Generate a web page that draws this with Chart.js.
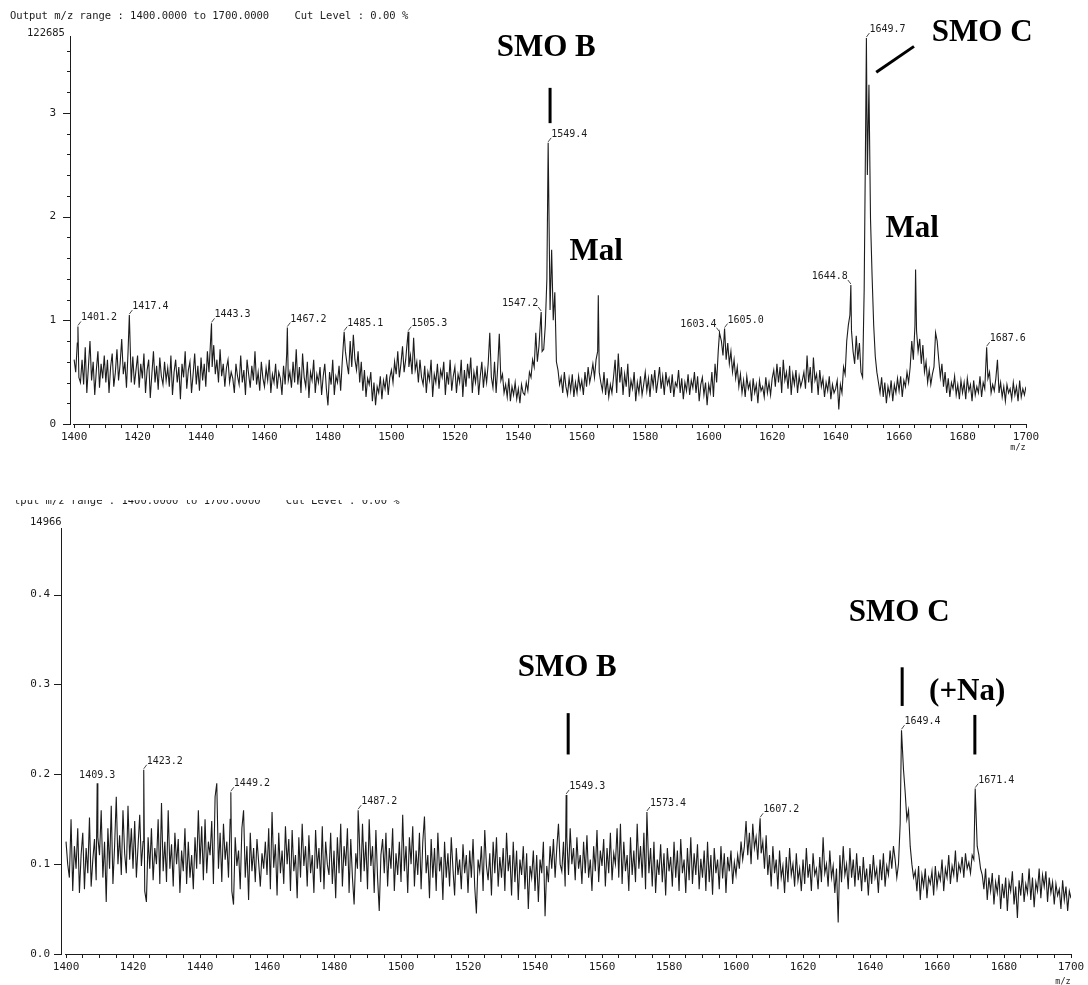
<!DOCTYPE html>
<html>
<head>
<meta charset="utf-8">
<script src="https://cdn.jsdelivr.net/npm/chart.js@4/dist/chart.umd.min.js"></script>
<style>
  html, body { margin: 0; padding: 0; background: #fff; }
  #wrap { position: relative; width: 1088px; height: 985px; }
  .panel { position: absolute; left: 0; width: 1088px; }
  #top { top: 0; height: 500px; }
  #bottom { top: 500px; height: 485px; }
</style>
</head>
<body>
<div id="wrap">
  <div class="panel" id="top"><canvas id="c1"></canvas></div>
  <div class="panel" id="bottom"><canvas id="c2"></canvas></div>
</div>
<script>
// ---- data: m/z grid 1400..1700 in 0.5 steps, relative intensity ----
const mzStart = 1400;
const mzStep = 0.5;

// upper spectrum (full scale 122685)
const topNoise = [
  0.62,0.50,0.78,0.45,0.40,0.62,0.38,0.74,0.30,0.55,0.80,0.42,0.60,0.28,0.52,0.70,0.35,0.58,0.44,0.66,
  0.40,0.62,0.30,0.55,0.68,0.36,0.50,0.72,0.42,0.58,0.82,0.48,0.60,0.35,0.70,0.55,0.40,0.65,0.38,0.52,
  0.66,0.35,0.58,0.44,0.68,0.30,0.52,0.62,0.25,0.48,0.70,0.40,0.56,0.33,0.64,0.46,0.38,0.60,0.42,0.54,
  0.36,0.66,0.28,0.50,0.62,0.40,0.55,0.24,0.58,0.45,0.70,0.34,0.52,0.60,0.30,0.48,0.68,0.38,0.56,0.32,
  0.64,0.42,0.58,0.36,0.70,0.50,0.80,0.55,0.76,0.48,0.62,0.40,0.72,0.46,0.58,0.36,0.54,0.62,0.40,0.50,
  0.44,0.30,0.58,0.46,0.38,0.66,0.40,0.52,0.28,0.62,0.48,0.35,0.56,0.42,0.70,0.38,0.50,0.32,0.60,0.44,
  0.36,0.54,0.42,0.62,0.30,0.48,0.40,0.58,0.34,0.50,0.44,0.28,0.56,0.38,0.68,0.42,0.50,0.35,0.60,0.40,
  0.72,0.38,0.55,0.30,0.68,0.45,0.36,0.60,0.25,0.50,0.42,0.62,0.30,0.48,0.40,0.55,0.28,0.46,0.58,0.34,
  0.18,0.50,0.38,0.62,0.28,0.46,0.40,0.56,0.32,0.60,0.50,0.70,0.58,0.48,0.80,0.55,0.86,0.62,0.52,0.70,
  0.40,0.60,0.32,0.52,0.26,0.44,0.38,0.50,0.22,0.40,0.18,0.36,0.30,0.46,0.24,0.42,0.34,0.48,0.28,0.45,
  0.52,0.40,0.60,0.48,0.70,0.45,0.58,0.75,0.50,0.62,0.80,0.55,0.66,0.48,0.83,0.52,0.60,0.40,0.62,0.45,
  0.38,0.56,0.30,0.50,0.42,0.62,0.26,0.48,0.40,0.58,0.34,0.52,0.45,0.60,0.28,0.50,0.38,0.62,0.32,0.46,
  0.55,0.30,0.48,0.40,0.62,0.26,0.52,0.36,0.58,0.44,0.64,0.30,0.50,0.40,0.56,0.28,0.46,0.60,0.35,0.52,
  0.40,0.58,0.88,0.45,0.35,0.60,0.30,0.55,0.87,0.42,0.48,0.30,0.38,0.26,0.44,0.22,0.36,0.28,0.40,0.24,
  0.34,0.20,0.38,0.30,0.28,0.40,0.32,0.50,0.45,0.62,0.55,0.88,0.60,0.75,1.00,0.70,0.72,0.95,1.40,2.00,
  1.10,1.68,1.00,1.27,0.60,0.52,0.38,0.45,0.30,0.50,0.36,0.28,0.44,0.32,0.48,0.26,0.40,0.30,0.46,0.34,
  0.42,0.28,0.50,0.36,0.55,0.40,0.48,0.58,0.45,0.62,0.70,0.50,0.40,0.32,0.50,0.28,0.44,0.26,0.38,0.30,
  0.45,0.62,0.30,0.68,0.40,0.55,0.28,0.48,0.36,0.58,0.26,0.42,0.34,0.50,0.22,0.40,0.30,0.46,0.28,0.38,
  0.50,0.32,0.44,0.26,0.48,0.36,0.52,0.30,0.42,0.55,0.34,0.46,0.28,0.50,0.38,0.44,0.30,0.48,0.26,0.40,
  0.36,0.52,0.30,0.44,0.24,0.40,0.32,0.48,0.28,0.42,0.35,0.50,0.30,0.46,0.22,0.38,0.45,0.28,0.40,0.18,
  0.38,0.30,0.50,0.26,0.58,0.40,0.70,0.60,0.80,0.66,0.85,0.62,0.78,0.58,0.70,0.50,0.62,0.44,0.55,0.36,
  0.48,0.30,0.42,0.26,0.46,0.34,0.40,0.22,0.44,0.30,0.38,0.20,0.42,0.32,0.36,0.26,0.45,0.30,0.40,0.28,
  0.44,0.52,0.36,0.58,0.40,0.55,0.30,0.62,0.42,0.50,0.34,0.56,0.28,0.48,0.38,0.52,0.30,0.46,0.36,0.42,
  0.50,0.34,0.66,0.40,0.55,0.30,0.64,0.42,0.48,0.28,0.52,0.36,0.44,0.26,0.40,0.32,0.46,0.24,0.38,0.30,
  0.34,0.42,0.14,0.38,0.30,0.55,0.48,0.80,0.95,1.05,0.90,0.70,0.58,0.85,0.62,0.78,0.50,0.45,1.30,3.00,
  2.40,3.27,1.97,1.42,0.95,0.65,0.50,0.40,0.30,0.45,0.26,0.40,0.20,0.36,0.28,0.42,0.22,0.38,0.30,0.44,
  0.32,0.46,0.26,0.42,0.36,0.50,0.40,0.55,0.80,0.62,0.95,0.90,0.70,0.82,0.58,0.76,0.50,0.60,0.40,0.52,
  0.38,0.48,0.55,0.88,0.80,0.62,0.45,0.58,0.36,0.50,0.30,0.44,0.26,0.40,0.34,0.46,0.28,0.38,0.24,0.42,
  0.30,0.40,0.24,0.44,0.32,0.38,0.22,0.42,0.28,0.36,0.30,0.46,0.26,0.40,0.34,0.55,0.44,0.50,0.30,0.38,
  0.32,0.44,0.62,0.30,0.40,0.26,0.36,0.22,0.38,0.30,0.34,0.24,0.40,0.28,0.36,0.22,0.42,0.26,0.34,0.28,
  0.36
];
// [m/z, intensity, label, side]
const topPeaks = [
  [1401.2, 0.94, '1401.2', 'r'], [1417.4, 1.05, '1417.4', 'r'], [1443.3, 0.97, '1443.3', 'r'],
  [1467.2, 0.93, '1467.2', 'r'], [1485.1, 0.89, '1485.1', 'r'], [1505.3, 0.89, '1505.3', 'r'],
  [1547.2, 1.08, '1547.2', 'l'], [1549.4, 2.71, '1549.4', 'r'], [1565.2, 1.24, '', ''],
  [1603.4, 0.88, '1603.4', 'l'], [1605.0, 0.92, '1605.0', 'r'], [1644.8, 1.34, '1644.8', 'l'],
  [1649.7, 3.72, '1649.7', 'r'], [1665.2, 1.49, '', ''], [1687.6, 0.74, '1687.6', 'r']
];
const topYMax = 3.74;
const topYTicks = [0, 0.2, 0.4, 0.6, 0.8, 1, 1.2, 1.4, 1.6, 1.8, 2, 2.2, 2.4, 2.6, 2.8, 3, 3.2, 3.4, 3.6];
const topFullScale = '122685';
const topTags = [
  { text: 'SMO B', mz: 1548.8, y: 3.62 },
  { text: 'Mal', mz: 1564.5, y: 1.66 },
  { text: 'SMO C', mz: 1686.2, y: 3.77 },
  { text: 'Mal', mz: 1664.1, y: 1.88 }
];
const topMarks = [
  [1550.0, 3.24, 1550.0, 2.90],
  [1652.8, 3.39, 1664.7, 3.64]
];

// lower spectrum (full scale 14966)
const bottomNoise = [
  0.125,0.100,0.085,0.150,0.070,0.120,0.095,0.140,0.068,0.110,0.135,0.072,0.118,0.090,0.152,0.075,0.105,0.128,0.082,0.130,
  0.110,0.160,0.085,0.125,0.058,0.140,0.095,0.165,0.078,0.120,0.175,0.100,0.132,0.088,0.160,0.112,0.090,0.165,0.105,0.140,
  0.095,0.148,0.085,0.120,0.155,0.098,0.125,0.070,0.058,0.130,0.095,0.140,0.082,0.118,0.100,0.150,0.078,0.168,0.092,0.125,
  0.080,0.160,0.095,0.122,0.075,0.135,0.100,0.128,0.068,0.115,0.092,0.140,0.078,0.125,0.085,0.110,0.072,0.130,0.095,0.160,
  0.100,0.142,0.082,0.150,0.090,0.125,0.110,0.148,0.078,0.175,0.190,0.095,0.135,0.080,0.145,0.105,0.125,0.085,0.150,0.070,
  0.055,0.130,0.098,0.115,0.072,0.140,0.160,0.085,0.120,0.060,0.135,0.092,0.118,0.080,0.128,0.102,0.075,0.112,0.095,0.125,
  0.088,0.140,0.072,0.158,0.096,0.122,0.065,0.135,0.090,0.115,0.078,0.142,0.100,0.128,0.070,0.138,0.092,0.110,0.062,0.130,
  0.085,0.145,0.098,0.120,0.075,0.132,0.090,0.110,0.068,0.138,0.095,0.118,0.080,0.142,0.072,0.125,0.100,0.088,0.135,0.078,
  0.115,0.062,0.130,0.090,0.145,0.075,0.120,0.098,0.140,0.068,0.128,0.085,0.055,0.112,0.095,0.135,0.080,0.145,0.092,0.125,
  0.072,0.150,0.098,0.120,0.068,0.138,0.085,0.048,0.110,0.128,0.090,0.135,0.075,0.118,0.095,0.140,0.070,0.112,0.088,0.125,
  0.080,0.155,0.092,0.120,0.068,0.130,0.100,0.142,0.075,0.115,0.088,0.135,0.072,0.125,0.153,0.090,0.110,0.062,0.128,0.085,
  0.118,0.070,0.135,0.092,0.108,0.060,0.125,0.085,0.112,0.075,0.130,0.095,0.065,0.118,0.088,0.105,0.072,0.122,0.090,0.110,
  0.068,0.115,0.085,0.128,0.075,0.045,0.105,0.092,0.120,0.070,0.138,0.098,0.082,0.112,0.065,0.125,0.090,0.130,0.075,0.108,
  0.085,0.118,0.070,0.135,0.092,0.110,0.065,0.125,0.080,0.115,0.060,0.105,0.088,0.120,0.072,0.112,0.050,0.098,0.085,0.115,
  0.070,0.110,0.058,0.105,0.090,0.125,0.042,0.098,0.080,0.120,0.095,0.128,0.085,0.118,0.145,0.100,0.092,0.125,0.075,0.130,
  0.088,0.140,0.100,0.118,0.082,0.130,0.095,0.110,0.078,0.125,0.090,0.132,0.085,0.105,0.070,0.120,0.092,0.138,0.080,0.115,
  0.098,0.128,0.075,0.118,0.090,0.135,0.082,0.112,0.100,0.140,0.085,0.145,0.078,0.125,0.092,0.110,0.070,0.130,0.088,0.115,
  0.080,0.145,0.095,0.120,0.085,0.135,0.072,0.110,0.090,0.118,0.075,0.125,0.068,0.105,0.088,0.122,0.080,0.112,0.065,0.118,
  0.092,0.108,0.075,0.125,0.085,0.115,0.070,0.128,0.090,0.105,0.068,0.118,0.082,0.130,0.078,0.112,0.088,0.122,0.072,0.106,
  0.085,0.115,0.070,0.125,0.080,0.110,0.066,0.118,0.090,0.105,0.072,0.120,0.084,0.112,0.068,0.108,0.092,0.115,0.078,0.102,
  0.088,0.110,0.095,0.125,0.105,0.120,0.148,0.110,0.135,0.100,0.145,0.118,0.130,0.105,0.140,0.112,0.125,0.095,0.132,0.088,
  0.110,0.075,0.120,0.090,0.105,0.072,0.115,0.085,0.098,0.068,0.108,0.080,0.118,0.088,0.100,0.075,0.112,0.082,0.095,0.070,
  0.105,0.078,0.118,0.085,0.100,0.070,0.112,0.088,0.095,0.072,0.108,0.080,0.130,0.090,0.100,0.075,0.115,0.085,0.098,0.068,
  0.095,0.035,0.110,0.080,0.120,0.088,0.100,0.072,0.118,0.085,0.105,0.075,0.112,0.082,0.098,0.070,0.108,0.080,0.095,0.065,
  0.100,0.078,0.110,0.085,0.095,0.068,0.105,0.082,0.112,0.075,0.098,0.088,0.115,0.095,0.120,0.105,0.085,0.100,0.145,0.230,
  0.205,0.180,0.150,0.160,0.120,0.100,0.085,0.092,0.070,0.098,0.060,0.088,0.075,0.095,0.062,0.085,0.078,0.092,0.065,0.098,
  0.075,0.090,0.082,0.105,0.070,0.095,0.085,0.110,0.078,0.098,0.088,0.115,0.080,0.100,0.092,0.108,0.085,0.112,0.095,0.102,
  0.090,0.110,0.105,0.135,0.120,0.110,0.095,0.088,0.072,0.095,0.060,0.085,0.070,0.090,0.055,0.080,0.068,0.088,0.050,0.078,
  0.062,0.085,0.048,0.080,0.070,0.092,0.055,0.075,0.040,0.082,0.065,0.090,0.058,0.078,0.068,0.095,0.060,0.085,0.052,0.080,
  0.070,0.095,0.062,0.088,0.075,0.092,0.058,0.085,0.068,0.080,0.055,0.078,0.065,0.072,0.050,0.082,0.060,0.075,0.048,0.070,
  0.062
];
const bottomPeaks = [
  [1409.3, 0.190, '1409.3', 'c'], [1423.2, 0.205, '1423.2', 'r'], [1449.2, 0.180, '1449.2', 'r'],
  [1487.2, 0.160, '1487.2', 'r'], [1549.3, 0.177, '1549.3', 'r'], [1573.4, 0.158, '1573.4', 'r'],
  [1607.2, 0.151, '1607.2', 'r'], [1649.4, 0.249, '1649.4', 'r'], [1671.4, 0.184, '1671.4', 'r']
];
const bottomYMax = 0.474;
const bottomYTicks = [0, 0.1, 0.2, 0.3, 0.4];
const bottomFullScale = '14966';
const bottomTags = [
  { text: 'SMO B', mz: 1549.6, y: 0.318 },
  { text: 'SMO C', mz: 1648.7, y: 0.379 },
  { text: '(+Na)', mz: 1669.0, y: 0.291 }
];
const bottomMarks = [
  [1549.9, 0.268, 1549.9, 0.222],
  [1649.6, 0.319, 1649.6, 0.276],
  [1671.3, 0.266, 1671.3, 0.222]
];

// m/z axis ticks every 5, labelled every 20
const xTicks = [];
for (let v = 1400; v <= 1700; v += 5) xTicks.push(v);

const header = 'Output m/z range : 1400.0000 to 1700.0000    Cut Level : 0.00 %';
const mono = '"DejaVu Sans Mono", "Liberation Mono", monospace';
const ink = '#1c1c1c';

function buildPoints(values, peaks) {
    var pts = [];
    values.forEach(function (v, i) {
        var x = mzStart + i * mzStep;
        var near = peaks.some(function (p) { return Math.abs(p[0] - x) < 0.15; });
        if (!near) pts.push({ x: x, y: v });
    });
    peaks.forEach(function (p) { pts.push({ x: p[0], y: p[1] }); });
    pts.sort(function (a, b) { return a.x - b.x; });
    return pts;
}

// y ticks (long at labelled values, short between), peak labels, bold tags, header texts
const decorPlugin = {
    id: 'decor',
    afterDraw: function (chart, args, opts) {
        const ctx = chart.ctx;
        const xs = chart.scales.x, ys = chart.scales.y;
        ctx.save();
        ctx.strokeStyle = ink;
        ctx.lineWidth = 1;
        ys.ticks.forEach(function (t) {
            const py = Math.round(ys.getPixelForValue(t.value)) + 0.5;
            const len = t.label ? 7 : 3;
            ctx.beginPath();
            ctx.moveTo(ys.right - len, py);
            ctx.lineTo(ys.right, py);
            ctx.stroke();
        });
        // x axis line starts at 1400, a little right of the y axis
        ctx.clearRect(ys.right + 1, xs.top - 1, xs.getPixelForValue(1400) - ys.right - 2, 3);

        // peak labels
        ctx.font = '10px ' + mono;
        ctx.fillStyle = ink;
        ctx.lineWidth = 0.8;
        ctx.textBaseline = 'alphabetic';
        opts.peaks.forEach(function (p) {
            if (!p[2]) return;
            const px = xs.getPixelForValue(p[0]);
            const py = ys.getPixelForValue(p[1]);
            if (p[3] === 'c') {
                ctx.textAlign = 'center';
                ctx.fillText(p[2], px, py - 5);
                return;
            }
            const d = p[3] === 'l' ? -1 : 1;
            ctx.beginPath();
            ctx.moveTo(px, py - 1);
            ctx.lineTo(px + 3 * d, py - 5);
            ctx.stroke();
            ctx.textAlign = d > 0 ? 'left' : 'right';
            ctx.fillText(p[2], px + 3 * d, py - 6);
        });
        // bold tags
        ctx.font = 'bold 31px "Liberation Serif", "Times New Roman", serif';
        ctx.fillStyle = '#000';
        ctx.textAlign = 'center';
        ctx.textBaseline = 'middle';
        opts.tags.forEach(function (t) {
            ctx.fillText(t.text, xs.getPixelForValue(t.mz), ys.getPixelForValue(t.y));
        });
        ctx.strokeStyle = '#000';
        ctx.lineWidth = 3;
        opts.marks.forEach(function (m) {
            ctx.beginPath();
            ctx.moveTo(xs.getPixelForValue(m[0]), ys.getPixelForValue(m[1]));
            ctx.lineTo(xs.getPixelForValue(m[2]), ys.getPixelForValue(m[3]));
            ctx.stroke();
        });
        // header, full scale value, m/z unit
        ctx.fillStyle = ink;
        ctx.textAlign = 'left';
        ctx.font = '10.5px ' + mono;
        if (opts.headerY > 4) {
            ctx.fillText(header, 10, opts.headerY);
        } else {
            // lower scan is cut off at its left and top edges
            const cut = ctx.measureText('Ou').width;
            ctx.save();
            ctx.beginPath();
            ctx.rect(14, 0, 1074, 20);
            ctx.clip();
            ctx.fillText(header, 14 - cut, opts.headerY);
            ctx.restore();
        }
        ctx.fillText(opts.fullScale, opts.fsX, opts.fsY);
        ctx.font = '8.5px ' + mono;
        ctx.textAlign = 'center';
        ctx.fillText('m/z', xs.right - 8, xs.bottom - opts.muOffset);
        ctx.restore();
    }
};

function makeChart(canvasId, values, peaks, xMin, yMax, yTicks, fmt, box, decor) {
    const ctx = document.getElementById(canvasId).getContext('2d');
    return new Chart(ctx, {
        type: 'line',
        data: {
            datasets: [{
                data: buildPoints(values, peaks),
                borderColor: ink,
                borderWidth: 1.1,
                pointRadius: 0,
                tension: 0,
                fill: false
            }]
        },
        options: {
            responsive: true,
            maintainAspectRatio: false,
            animation: false,
            parsing: false,
            layout: { padding: { left: 0, top: box.top, right: box.right, bottom: 0 } },
            plugins: {
                legend: { display: false },
                tooltip: { enabled: false },
                decor: decor
            },
            scales: {
                x: {
                    type: 'linear',
                    min: xMin,
                    max: 1700,
                    afterFit: function (s) { s.height = box.xh; },
                    afterBuildTicks: function (s) {
                        s.ticks = xTicks.map(function (v) { return { value: v }; });
                    },
                    border: { display: true, color: ink, width: 1 },
                    grid: { display: true, drawOnChartArea: false, tickLength: 4, color: ink },
                    ticks: {
                        autoSkip: false,
                        maxRotation: 0,
                        padding: 3,
                        color: ink,
                        font: { family: mono, size: 11 },
                        callback: function (v) { return v % 20 === 0 ? String(v) : ''; }
                    }
                },
                y: {
                    min: 0,
                    max: yMax,
                    afterFit: function (s) { s.width = box.yw; },
                    afterBuildTicks: function (s) {
                        s.ticks = yTicks.map(function (v) { return { value: v }; });
                    },
                    border: { display: true, color: ink, width: 1 },
                    grid: { display: false, drawTicks: false },
                    ticks: {
                        autoSkip: false,
                        padding: box.ypad,
                        color: ink,
                        font: { family: mono, size: 11 },
                        callback: fmt
                    }
                }
            }
        },
        plugins: [decorPlugin]
    });
}

makeChart('c1', topNoise, topPeaks, 1398.7, topYMax, topYTicks,
    function (v) { return Math.abs(v - Math.round(v)) < 1e-6 ? String(Math.round(v)) : ''; },
    { top: 36, right: 62, xh: 76, yw: 70, ypad: 14 },
    { peaks: topPeaks, tags: topTags, marks: topMarks, headerY: 16, fullScale: topFullScale, fsX: 27, fsY: 33, muOffset: 52 });

makeChart('c2', bottomNoise, bottomPeaks, 1398.5, bottomYMax, bottomYTicks,
    function (v) { return v.toFixed(1); },
    { top: 28, right: 17, xh: 31, yw: 61, ypad: 11 },
    { peaks: bottomPeaks, tags: bottomTags, marks: bottomMarks, headerY: 1, fullScale: bottomFullScale, fsX: 30, fsY: 22, muOffset: 3 });
</script>
</body>
</html>
